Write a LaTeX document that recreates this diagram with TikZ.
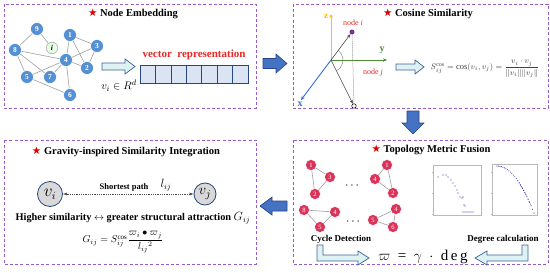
\documentclass[tikz,border=0pt]{standalone}
\usepackage{amsmath}
\usepackage{fontspec}
\setmainfont{Liberation Serif}
\newfontfamily\symfont{DejaVu Sans}
\usetikzlibrary{arrows.meta}
\definecolor{boxpurple}{RGB}{150,90,205}
\definecolor{gnode}{RGB}{84,144,210}
\definecolor{pnode}{RGB}{218,52,90}
\definecolor{blockblue}{RGB}{68,114,196}
\definecolor{blockedge}{RGB}{40,70,130}
\definecolor{hollowfill}{RGB}{222,242,244}
\definecolor{hollowedge}{RGB}{60,100,150}
\definecolor{vecfill}{RGB}{218,228,243}
\definecolor{vecedge}{RGB}{40,70,130}
\definecolor{zcol}{RGB}{255,192,0}
\definecolor{ycol}{RGB}{80,140,50}
\definecolor{xcol}{RGB}{50,110,210}
\definecolor{ptpurple}{RGB}{112,48,160}
\definecolor{dotblue}{RGB}{60,60,170}
\definecolor{txtred}{RGB}{235,40,40}
\tikzset{
  panel/.style={draw=boxpurple, line width=1pt, dash pattern=on 3pt off 2.2pt},
  ptitle/.style={font=\fontsize{10.5}{12}\selectfont\bfseries, inner sep=0},
  gn/.style={circle, fill=gnode, draw=white, line width=0.6pt, minimum size=13pt, inner sep=0,
    text=white, font=\fontsize{7.5}{8}\selectfont\bfseries},
  inode/.style={circle, fill=green!10, draw=gray!70, line width=0.5pt, minimum size=11.5pt, inner sep=0,
    font=\fontsize{7.5}{8}\selectfont\bfseries\itshape},
  pn/.style={circle, fill=pnode, draw=white, line width=0.5pt, minimum size=11pt, inner sep=0,
    text=white, font=\fontsize{6.5}{7}\selectfont},
  gedge/.style={draw=gray!75, line width=0.6pt},
  pedge/.style={draw=gray!75, line width=0.6pt},
  blockarrow/.style={fill=blockblue, draw=blockedge, line width=0.6pt},
  hollowarrow/.style={fill=hollowfill, draw=hollowedge, line width=0.7pt},
  lbl/.style={inner sep=0}
}
\newcommand{\redstar}{{\symfont\color{red!85!black}★}}
\begin{document}
\begin{tikzpicture}[x=1pt,y=-1pt]
\useasboundingbox (0,0) rectangle (550,273);
\fill[white] (0,0) rectangle (550,273);

% ---------- panels ----------
\draw[panel] (4,4) rectangle (256,108);
\draw[panel] (293,4) rectangle (548,108);
\draw[panel] (293,140) rectangle (548,264);
\draw[panel] (4,140) rectangle (256,264);

% ---------- titles ----------
\node[ptitle] (t1) at (133,14) {\redstar\ Node Embedding};
\node[ptitle] (t2) at (428,14) {\redstar\ Cosine Similarity};
\node[ptitle] (t3) at (431,150) {\redstar\ Topology Metric Fusion};
\node[ptitle] (t4) at (126,152) {\redstar\ Gravity-inspired Similarity Integration};

% ---------- panel 1: graph ----------
\path (37,29) coordinate (g9) (70,35) coordinate (g1) (97,46) coordinate (g3)
      (15,50) coordinate (g8) (66,60) coordinate (g4) (87,68) coordinate (g2)
      (27,77) coordinate (g5) (50,77) coordinate (g7) (70,95) coordinate (g6)
      (52,48) coordinate (gi);
\foreach \a/\b in {g9/g8,g9/gi,g8/g4,g8/g5,g8/g7,g1/g4,g1/g3,g1/g2,g3/g4,g3/g2,g4/g2,g4/g5,g4/g7,g4/g6,g5/g6}
  \draw[gedge] (\a) -- (\b);
\foreach \n/\t in {g9/9,g1/1,g3/3,g8/8,g4/4,g2/2,g5/5,g7/7,g6/6}
  \node[gn] (n\n) at (\n) {\t};
\node[inode] (ngi) at (gi) {i};

% hollow arrow
\draw[hollowarrow] (102,63) -- (125,63) -- (125,59) -- (135,66.5) -- (125,74) -- (125,70) -- (102,70) -- cycle;
\node[lbl, font=\fontsize{11}{12}\selectfont] (vin) at (119,86) {$v_i \in R^d$};
\node[lbl, font=\fontsize{11}{12}\selectfont\bfseries, text=txtred] (vrep) at (194,55) {vector\ \ representation};
\foreach \k in {0,...,6}
  \draw[fill=vecfill, draw=vecedge, line width=0.7pt] ({140+\k*15.43},65) rectangle ({140+(\k+1)*15.43},83);

% block arrow right
\draw[blockarrow] (263,58.5) -- (276,58.5) -- (276,54) -- (287,63.5) -- (276,73) -- (276,68.5) -- (263,68.5) -- cycle;

% ---------- panel 2: cosine ----------
\coordinate (O) at (331,60);
\coordinate (zend) at (331,14);
\coordinate (yend) at (387,60);
\coordinate (xend) at (301,100);
\draw[zcol, line width=0.9pt, -{Stealth[length=4pt,width=3.5pt]}] (O) -- (zend);
\draw[ycol, line width=0.9pt, -{Stealth[length=4pt,width=3.5pt]}] (O) -- (yend);
\draw[xcol, line width=0.9pt, -{Stealth[length=4pt,width=3.5pt]}] (O) -- (xend);
\node[lbl, text=zcol, font=\fontsize{9}{10}\selectfont\bfseries] (zl) at (326,16) {z};
\node[lbl, text=ycol, font=\fontsize{10}{10}\selectfont\bfseries] (yl) at (382,50) {y};
\node[lbl, text=xcol, font=\fontsize{10}{10}\selectfont\bfseries] (xl) at (300,104) {x};
\node[circle, fill=ptpurple, inner sep=0, minimum size=5pt] (ni) at (352,32) {};
\node[circle, fill=white, draw=black, line width=0.5pt, inner sep=0, minimum size=4.5pt] (nj) at (354,106) {};
\draw[black!70, line width=0.6pt, -{Stealth[length=4pt,width=3pt]}] (O) -- (ni);
\draw[black!70, line width=0.6pt, -{Stealth[length=4pt,width=3pt]}] (O) -- (nj);
\draw[black!60, line width=0.5pt, dash pattern=on 1pt off 1pt] (ni) -- (nj);
\draw[black!55, line width=0.4pt] (338.2,50.4) arc[start angle=-53, end angle=63, radius=12];
\node[lbl, text=txtred, font=\fontsize{8}{9}\selectfont] (nil) at (353,23) {node \textit{i}};
\node[lbl, text=txtred, font=\fontsize{8}{9}\selectfont] (njl) at (373,73) {node \textit{j}};

\draw[hollowarrow] (396,64) -- (415,64) -- (415,60) -- (424,67) -- (415,74) -- (415,70) -- (396,70) -- cycle;
\node[lbl, text=black!75, font=\fontsize{8.5}{10}\selectfont] (cosf) at (485,69)
  {$S_{ij}^{\cos}=\cos(v_i,v_j)=\dfrac{v_i\cdot v_j}{\|v_i\|\|v_j\|}$};

% block arrow down
\draw[blockarrow] (407,111) -- (419,111) -- (419,123) -- (424,123) -- (413,134) -- (402,123) -- (407,123) -- cycle;

% ---------- panel 3: topology ----------
\path (311,165) coordinate (a1) (330,177) coordinate (a3) (315,194) coordinate (a2)
      (387,165) coordinate (b1) (375,179) coordinate (b4) (393,193) coordinate (b2)
      (304,210) coordinate (c8) (335,212) coordinate (c4) (320,227) coordinate (c5)
      (373,220) coordinate (d5) (396,209) coordinate (d4) (393,227) coordinate (d6);
\foreach \a/\b in {a1/a3,a1/a2,a3/a2,b1/b4,b4/b2,b1/b2,c8/c4,c8/c5,c5/c4,d5/d4,d5/d6,d4/d6}
  \draw[pedge] (\a) -- (\b);
\foreach \n/\t in {a1/1,a3/3,a2/2,b1/1,b4/4,b2/2,c8/8,c4/4,c5/5,d5/5,d4/4,d6/6}
  \node[pn] (n\n) at (\n) {\t};
\node[lbl, font=\fontsize{12}{12}\selectfont\bfseries] (dots1) at (353,186) {$\cdots$};
\node[lbl, font=\fontsize{12}{12}\selectfont\bfseries] (dots2) at (354,222) {$\cdots$};

% plots
\draw[gray!55, line width=0.4pt] (433,165) rectangle (481,215);
\draw[gray!55, line width=0.4pt] (492,164) rectangle (537,215);
\foreach \p in {(438,177),(443,175),(446,175),(448,177),(451,180),(453,183),(455,186),(457,190),(458,193),(460,197),(462,198),(463,197),(464,205),(465,206),(463,212),(465,212),(467,212),(469,212),(471,212),(473,212)}
  \fill[dotblue] \p circle (0.6pt);
\foreach \t in {0,0.04,...,1.0}
  \fill[dotblue] ({497+37*\t},{166+47*\t*\t}) circle (0.55pt);
\foreach \t in {0.6,0.63,...,0.9}
  \fill[dotblue] ({497+37*\t},{166+47*\t*\t}) circle (0.55pt);
\foreach \yy in {172,193,214}
  {\draw[gray!55, line width=0.3pt] (433,\yy) -- (431.5,\yy);
   \draw[gray!55, line width=0.3pt] (492,\yy) -- (490.5,\yy);}

\node[lbl, font=\fontsize{9}{10}\selectfont\bfseries] (cyc) at (341,239) {Cycle Detection};
\node[lbl, font=\fontsize{9}{10}\selectfont\bfseries] (deg) at (503,239) {Degree calculation};

\draw[hollowarrow] (317,245) -- (323,245) -- (323,255) -- (358,255) -- (358,251) -- (369,258) -- (358,265) -- (358,261) -- (317,261) -- cycle;
\draw[hollowarrow] (528,245) -- (522,245) -- (522,255) -- (487,255) -- (487,251) -- (475,258) -- (487,265) -- (487,261) -- (528,261) -- cycle;
\node[lbl, font=\fontsize{15}{16}\selectfont] (omega) at (423,257) {$\varpi$\ \ =\ \ $\gamma$\ \ $\cdot$\ \ d\,e\,g};

% block arrow left
\draw[blockarrow] (287,201) -- (272,201) -- (272,197) -- (260,206) -- (272,215) -- (272,211) -- (287,211) -- cycle;

% ---------- panel 4: gravity ----------
\node[circle, fill=gray!30, draw=blockedge, line width=0.8pt, minimum size=25pt, inner sep=0,
  font=\fontsize{16}{16}\selectfont] (vi) at (50,194) {$v_i$};
\node[circle, fill=gray!30, draw=blockedge, line width=0.8pt, minimum size=22pt, inner sep=0,
  font=\fontsize{15}{15}\selectfont] (vj) at (205,194) {$v_j$};
\draw[black!70, line width=0.5pt, dash pattern=on 1pt off 0.8pt, {Latex[length=4pt,width=3pt]}-{Latex[length=4pt,width=3pt]}] (vi) -- (vj);
\node[lbl, font=\fontsize{8.5}{10}\selectfont\bfseries] (sp) at (124,187) {Shortest path};
\node[lbl, font=\fontsize{12}{12}\selectfont] (lij) at (166,185) {$l_{ij}$};
\node[lbl, font=\fontsize{10.3}{11}\selectfont\bfseries] (hs) at (133,218)
  {Higher similarity $\leftrightarrow$ greater structural attraction {\fontsize{11.5}{11}\selectfont$G_{ij}$}};
\node[lbl, font=\fontsize{10}{11}\selectfont] (gf) at (123,242)
  {$G_{ij}=S_{ij}^{\cos}\dfrac{\varpi_i\bullet\varpi_j}{l_{ij}{}^2}$};
\end{tikzpicture}
\end{document}
